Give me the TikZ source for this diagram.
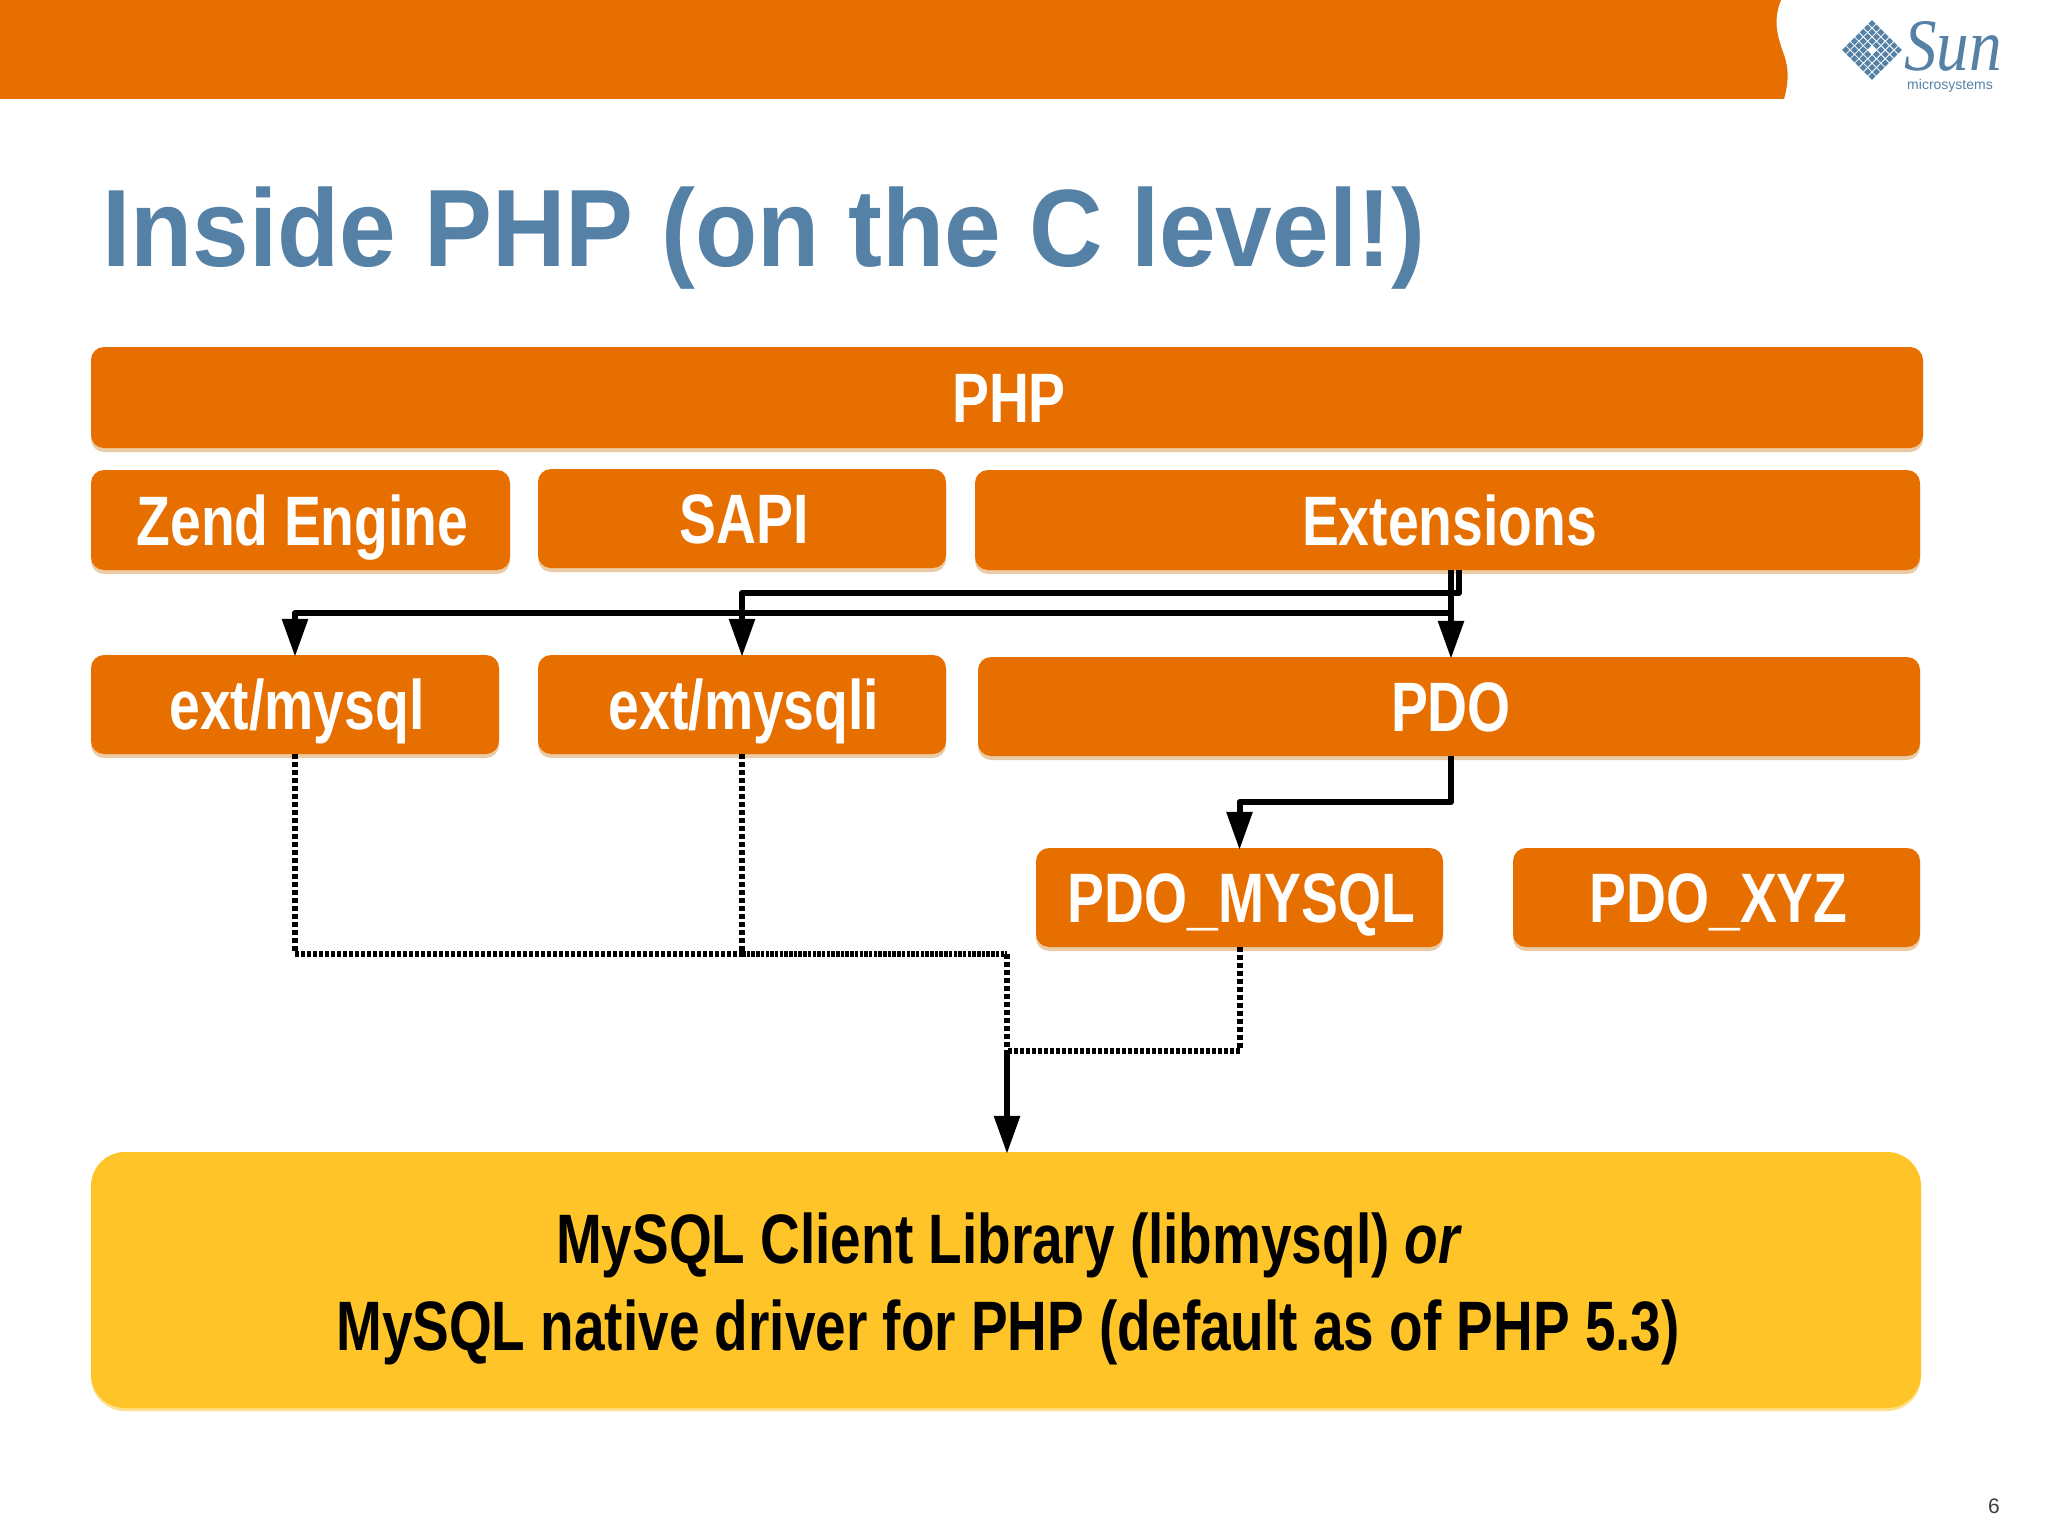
\documentclass[tikz,border=0pt]{standalone}
\usepackage{fontspec}
\setmainfont{Liberation Sans}
\newfontfamily\narrowfont[FakeStretch=0.79]{Liberation Sans}
\newfontfamily\yellowfont[FakeStretch=0.785]{Liberation Sans}
\newfontfamily\titlefont[FakeStretch=0.925]{Liberation Sans}
\newfontfamily\sunfont[FakeStretch=0.88]{Liberation Serif}
\usetikzlibrary{arrows.meta,shadows,calc}
\definecolor{sunorange}{HTML}{E66F00}
\definecolor{sunyellow}{HTML}{FFC528}
\definecolor{sunblue}{HTML}{5581A6}
\definecolor{boxshadow}{HTML}{EBCBA5}
\tikzset{
  orangebox/.style={fill=sunorange,rounded corners=13pt,text=white,inner sep=0pt,
    text height=62pt,text depth=12pt,
    execute at begin node={\hspace*{4pt}},
    font=\narrowfont\bfseries\fontsize{70}{80}\selectfont,
    general shadow={shadow xshift=0pt,shadow yshift=-4pt,fill=boxshadow}},
  yellowbox/.style={fill=sunyellow,rounded corners=34pt,inner sep=0pt,
    general shadow={shadow xshift=0pt,shadow yshift=-3pt,fill=sunyellow!55}},
  yellowtext/.style={text=black,inner sep=0pt,align=center,
    font=\yellowfont\bfseries\fontsize{70}{87}\selectfont},
  solidlink/.style={line width=6pt,draw=black,line join=round},
  vdotted/.style={line width=6pt,draw=black,dash pattern=on 5pt off 3pt},
  hdotted/.style={line width=6pt,draw=black,dash pattern=on 3.5pt off 2.5pt},
  hdense/.style={line width=6pt,draw=black,dash pattern=on 3.5pt off 1.2pt},
  tip/.style={-{Triangle[length=38pt,width=25pt]},shorten >=-2pt},
}
\begin{document}
\begin{tikzpicture}[x=1pt,y=-1pt]
\useasboundingbox (0,0) rectangle (2048,1536);
\fill[white] (0,0) rectangle (2048,1536);
% header band
\fill[sunorange] (0,0) -- (1781,0) .. controls (1773,20) and (1777,35) .. (1783,52)
  .. controls (1790,70) and (1788,85) .. (1784,99) -- (0,99) -- cycle;
% logo
\begin{scope}[shift={(1872,50)},rotate=45]
  \foreach \i in {-3,...,3}{\foreach \j in {-3,...,3}{
    \fill[sunblue] ({\i*6.2-2.5},{\j*6.2-2.5}) rectangle ({\i*6.2+2.5},{\j*6.2+2.5});}}
  \fill[white] (-3,-3) rectangle (3,3);
\end{scope}
\node[anchor=base west,text=sunblue,inner sep=0pt,font=\sunfont\itshape\fontsize{74}{74}\selectfont] (sunword) at (1904,71) {Sun};
\node[text=sunblue,inner sep=0pt,font=\fontsize{14}{15}\selectfont] (sunsub) at (1950,86) {microsystems};
% title
\node[anchor=base west,text=sunblue,inner sep=0pt,font=\titlefont\bfseries\fontsize{110}{120}\selectfont] (title) at (102,266) {Inside PHP (on the C level!)};
% boxes
\node[orangebox,minimum width=1832pt,minimum height=101pt] (php) at (1007,397.5) {PHP};
\node[orangebox,minimum width=419pt,minimum height=100pt] (zend) at (300.5,520) {Zend Engine};
\node[orangebox,minimum width=408pt,minimum height=99pt] (sapi) at (742,518.5) {SAPI};
\node[orangebox,minimum width=945pt,minimum height=100pt] (extensions) at (1447.5,520) {Extensions};
\node[orangebox,minimum width=408pt,minimum height=99pt] (mysql) at (295,704.5) {ext/mysql};
\node[orangebox,minimum width=408pt,minimum height=99pt] (mysqli) at (742,704.5) {ext/mysqli};
\node[orangebox,minimum width=942pt,minimum height=99pt] (pdo) at (1449,706.5) {PDO};
\node[orangebox,minimum width=407pt,minimum height=99pt] (pdomysql) at (1239.5,897.5) {PDO\_MYSQL};
\node[orangebox,minimum width=407pt,minimum height=99pt] (pdoxyz) at (1716.5,897.5) {PDO\_XYZ};
\node[yellowbox,minimum width=1830pt,minimum height=256pt] (client) at (1006,1280) {};
\node[yellowtext] (clienttext) at (1008,1289)
  {MySQL Client Library (libmysql) {\itshape or}\\MySQL native driver for PHP (default as of PHP 5.3)};
% named bends
\coordinate (busA) at (1459,593);
\coordinate (busB) at (1451,613);
\coordinate (joinA) at (1007,954);
\coordinate (joinB) at (1007,1051);
\coordinate (pdoBend) at (1451,802);
% dotted connectors
\draw[vdotted] (mysql.south) -- (mysql.south |- joinA);
\draw[hdotted] (mysql.south |- joinA) -- (mysqli.south |- joinA);
\draw[vdotted] (mysqli.south) -- (mysqli.south |- joinA);
\draw[hdense] (mysqli.south |- joinA) -- (joinA);
\draw[vdotted] (joinA) -- (joinB);
\draw[vdotted] (pdomysql.south) -- (pdomysql.south |- joinB);
\draw[hdotted] (pdomysql.south |- joinB) -- (joinB);
% solid connectors
\draw[solidlink,tip] (extensions.south -| busA) -- (busA) -- (busA -| mysqli.north) -- (mysqli.north);
\draw[solidlink,tip] (extensions.south -| busB) -- (pdo.north -| busB);
\draw[solidlink,tip] (busB) -- (busB -| mysql.north) -- (mysql.north);
\draw[solidlink,tip] (pdo.south -| pdoBend) -- (pdoBend) -- (pdoBend -| pdomysql.north) -- (pdomysql.north);
\draw[solidlink,tip] (joinB) -- (client.north -| joinB);
% page number
\node[inner sep=0pt,font=\fontsize{21}{21}\selectfont,text=black!75] (pageno) at (1994,1506) {6};
\end{tikzpicture}
\end{document}
